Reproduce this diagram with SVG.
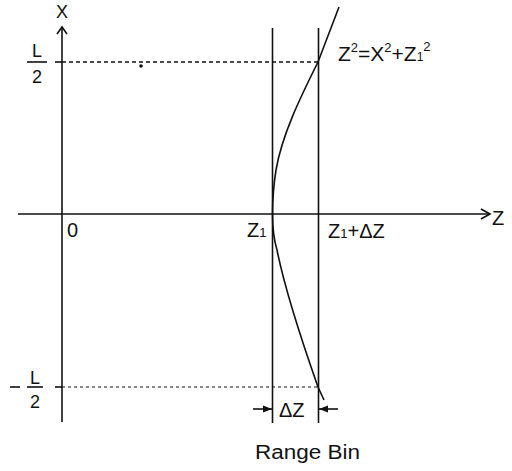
<svg xmlns="http://www.w3.org/2000/svg" width="512" height="471" viewBox="0 0 512 471">
<defs>
<style>
.ln{stroke:#111;stroke-width:1.6;fill:none}
.ds{stroke:#111;stroke-width:1.3;fill:none;stroke-dasharray:4 3}
.t{font-family:"Liberation Sans",Arial,sans-serif;fill:#111;font-size:20px}
.s{font-size:13px}
</style>
<marker id="ah" markerWidth="10" markerHeight="8" refX="9" refY="4" orient="auto" markerUnits="userSpaceOnUse">
<path d="M0,0.5 L9,4 L0,7.5 Z" fill="#111"/>
</marker>
</defs>
<rect width="512" height="471" fill="#fff"/>
<g id="axes">
<line class="ln" x1="62" y1="27" x2="62" y2="422"/>
<polyline class="ln" points="57,34 62,27 67,34"/>
<line class="ln" x1="18" y1="214" x2="490" y2="214"/>
<polyline class="ln" points="481,209 490,214 481,219"/>
</g>
<g id="bin-lines">
<line class="ln" x1="272.5" y1="28" x2="272.5" y2="423"/>
<line class="ln" x1="318.5" y1="28" x2="318.5" y2="423"/>
</g>
<g id="connectors">
<line class="ln" x1="55" y1="62" x2="62" y2="62"/>
<line class="ds" x1="62" y1="62" x2="318" y2="62"/>
<line class="ln" x1="55" y1="387" x2="62" y2="387"/>
<line class="ds" x1="62" y1="387" x2="318" y2="387" style="stroke-dasharray:3 3;stroke-width:1.2"/>
<line class="ln" x1="253" y1="409" x2="272" y2="409" marker-end="url(#ah)"/>
<line class="ln" x1="338" y1="409" x2="319" y2="409" marker-end="url(#ah)"/>
</g>
<g id="curve">
<path class="ln" d="M339,7 L318,62 C300,98 282,135 276,170 C273.5,186 272.5,202 272.5,214 C272.5,228 274,240 277,250 C285,290 305,350 318,387 L324,400"/>
</g>
<circle id="dot" cx="141" cy="66" r="1.8" fill="#111"/>
<g id="labels">
<text class="t" x="62" y="18" text-anchor="middle" style="font-size:18px">X</text>
<text class="t" x="37" y="57" text-anchor="middle" style="font-size:18px">L</text>
<line class="ln" x1="27" y1="62" x2="47" y2="62"/>
<text class="t" x="37" y="83" text-anchor="middle" style="font-size:18px">2</text>
<line class="ln" x1="10" y1="387" x2="20" y2="387"/>
<text class="t" x="35" y="384" text-anchor="middle" style="font-size:18px">L</text>
<line class="ln" x1="27" y1="387" x2="43" y2="387"/>
<text class="t" x="35" y="408" text-anchor="middle" style="font-size:18px">2</text>
<text class="t" x="67" y="237">0</text>
<text class="t" x="247" y="237">Z<tspan class="s">1</tspan></text>
<text class="t" x="328" y="238">Z<tspan class="s">1</tspan>+ΔZ</text>
<text class="t" x="492" y="225">Z</text>
<text class="t" x="338" y="61" style="font-size:21px">Z<tspan style="font-size:13px" dy="-9">2</tspan><tspan dy="9">=X</tspan><tspan style="font-size:13px" dy="-9">2</tspan><tspan dy="9">+Z</tspan><tspan style="font-size:12px">1</tspan><tspan style="font-size:13px" dy="-10">2</tspan></text>
<text class="t" x="279" y="417">ΔZ</text>
<text class="t" x="255" y="459" textLength="105" lengthAdjust="spacingAndGlyphs">Range Bin</text>
</g>
</svg>
